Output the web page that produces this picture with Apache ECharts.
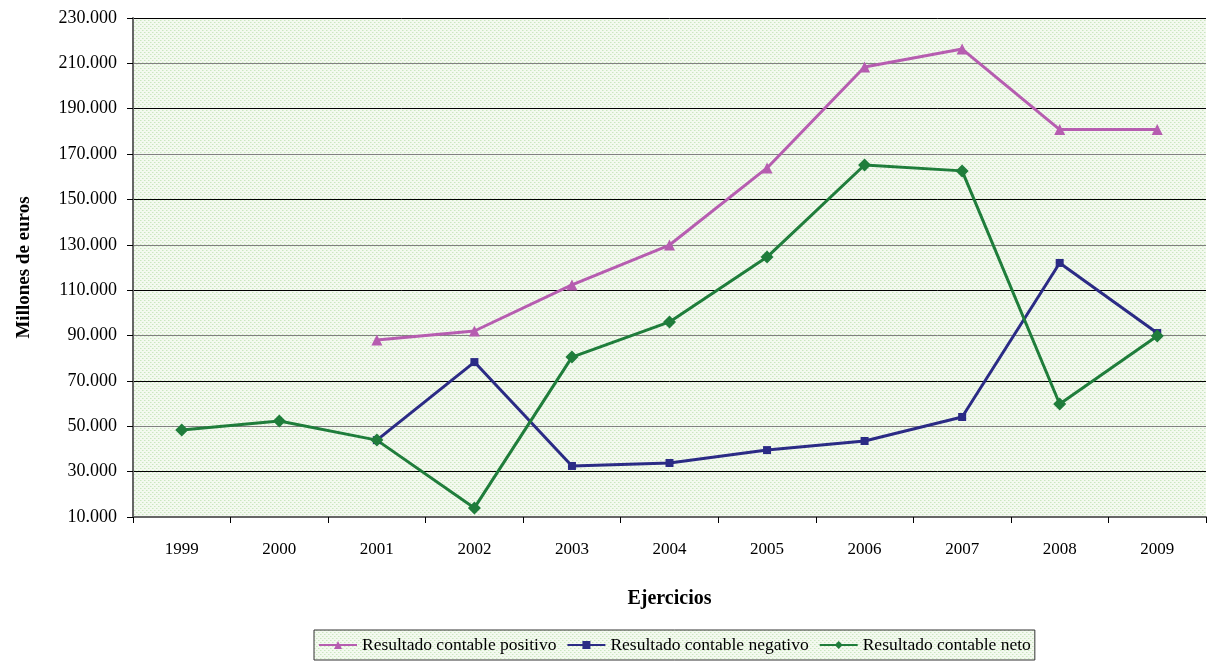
<!DOCTYPE html>
<html>
<head>
<meta charset="utf-8">
<script src="https://cdn.jsdelivr.net/npm/echarts@6/dist/echarts.min.js"></script>
<style>
html, body { margin: 0; padding: 0; background: #fff; }
#chart { width: 1207px; height: 662px; }
</style>
</head>
<body>
<div id="chart"></div>
<script>
// datos
var years = ['1999', '2000', '2001', '2002', '2003', '2004', '2005', '2006', '2007', '2008', '2009'];
var positivo = ['-', '-', 88000, 92000, 112300, 129900, 163900, 208400, 216300, 180800, 180800];
var negativo = ['-', '-', 43900, 78300, 32500, 33800, 39500, 43500, 54100, 122000, 91100];
var neto = [48400, 52300, 43900, 14000, 80500, 96000, 124600, 165200, 162600, 59800, 89800];
var seriesNames = ['Resultado contable positivo', 'Resultado contable negativo', 'Resultado contable neto'];

// fondo punteado verde
function makePattern() {
    var c = document.createElement('canvas');
    c.width = 4;
    c.height = 4;
    var ctx = c.getContext('2d');
    ctx.fillStyle = '#f3f9ef';
    ctx.fillRect(0, 0, 4, 4);
    ctx.fillStyle = '#cbe6c0';
    ctx.fillRect(0, 0, 1, 1);
    ctx.fillRect(2, 2, 1, 1);
    ctx.fillStyle = '#dff0d7';
    ctx.fillRect(1, 0, 1, 1);
    ctx.fillRect(3, 2, 1, 1);
    return { image: c, repeat: 'repeat' };
}
var pattern = makePattern();

function fmt(v) {
    return (v / 1000).toFixed(3);
}

var myChart = echarts.init(document.getElementById('chart'));
var font = '"Liberation Serif", "Times New Roman", serif';

var option = {
    animation: false,
    textStyle: { fontFamily: font },
    grid: {
        left: 133,
        right: 1,
        top: 18,
        bottom: 145,
        show: true,
        backgroundColor: pattern,
        borderWidth: 0
    },
    legend: {
        bottom: 2,
        left: 314,
        padding: [6, 4, 6, 4],
        itemGap: 10,
        itemWidth: 38,
        itemHeight: 10,
        borderColor: '#333',
        borderWidth: 1,
        backgroundColor: pattern,
        textStyle: { fontFamily: font, fontSize: 17.5, color: '#000' },
        data: seriesNames
    },
    xAxis: {
        type: 'category',
        data: years,
        boundaryGap: true,
        name: 'Ejercicios',
        nameLocation: 'middle',
        nameGap: 72,
        nameTextStyle: { fontFamily: font, fontSize: 20, fontWeight: 'bold', color: '#000' },
        axisLine: { lineStyle: { color: '#666', width: 2 } },
        axisTick: { show: true, alignWithLabel: false, length: 6, lineStyle: { color: '#000' } },
        axisLabel: { fontFamily: font, fontSize: 17, color: '#000', margin: 24 }
    },
    yAxis: {
        type: 'value',
        min: 10000,
        max: 230000,
        interval: 20000,
        name: 'Millones de euros',
        nameLocation: 'middle',
        nameGap: 99,
        nameTextStyle: { fontFamily: font, fontSize: 19, fontWeight: 'bold', color: '#000' },
        axisLine: { show: true, lineStyle: { color: '#666', width: 2 } },
        axisTick: { show: true, length: 6, lineStyle: { color: '#000' } },
        axisLabel: { fontFamily: font, fontSize: 18, color: '#000', margin: 16, formatter: fmt },
        splitLine: { show: true, lineStyle: { color: ['#808080', '#000'], width: 1 } }
    },
    series: [
        {
            name: seriesNames[0],
            type: 'line',
            data: positivo,
            symbol: 'triangle',
            symbolSize: 11,
            itemStyle: { color: '#b65db0' },
            lineStyle: { width: 3, color: '#b65db0' }
        },
        {
            name: seriesNames[1],
            type: 'line',
            data: negativo,
            symbol: 'rect',
            symbolSize: 8,
            itemStyle: { color: '#2b2b85' },
            lineStyle: { width: 3, color: '#2b2b85' }
        },
        {
            name: seriesNames[2],
            type: 'line',
            data: neto,
            symbol: 'diamond',
            symbolSize: 13,
            itemStyle: { color: '#1f7d3b' },
            lineStyle: { width: 3, color: '#1f7d3b' }
        }
    ]
};

myChart.setOption(option);
</script>
</body>
</html>
